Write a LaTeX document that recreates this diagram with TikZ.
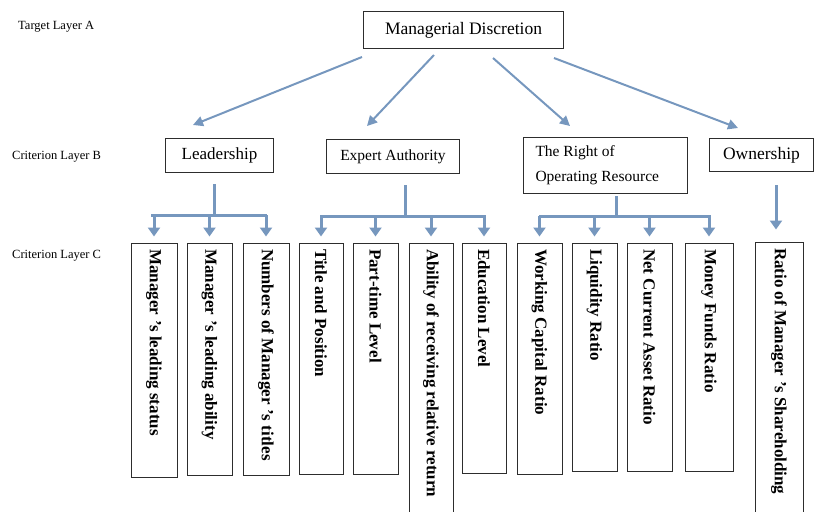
\documentclass[tikz,border=0pt]{standalone}
\usepackage{fontspec}
\setmainfont{Liberation Serif}
\usetikzlibrary{arrows.meta,calc}
\definecolor{arrowblue}{RGB}{118,151,190}
\definecolor{boxline}{RGB}{45,45,45}
\newcommand{\mgr}{Manager\hspace{0.3em}’s}
\begin{document}
\begin{tikzpicture}[x=1pt,y=-1pt,
  bbox/.style={draw=boxline, line width=1pt, inner sep=0pt, anchor=north west},
  cbox/.style={draw=boxline, line width=1pt, rotate=-90, inner xsep=6pt, inner ysep=0pt, align=flush left, font=\bfseries\fontsize{17}{17}\selectfont},
  layer/.style={anchor=west, inner sep=0pt, font=\fontsize{12.5}{14}\selectfont},
  aarrow/.style={draw=arrowblue, line width=2pt, -{Triangle[length=10pt,width=10pt]}},
  bline/.style={draw=arrowblue, line width=3pt},
  barrow/.style={draw=arrowblue, line width=3pt, -{Triangle[length=9pt,width=12pt]}, shorten >=6pt},
]
\useasboundingbox (0,0) rectangle (815,512);
\clip (0,0) rectangle (815,512);

% layer labels
\node[layer] (la) at (18,27) {Target Layer A};
\node[layer] (lb) at (12,157) {Criterion Layer B};
\node[layer] (lc) at (12,256) {Criterion Layer C};

% layer A
\node[bbox, minimum width=200, minimum height=37, font=\fontsize{17.5}{20}\selectfont] (A) at (363,11) {Managerial Discretion};

% layer B
\node[bbox, minimum width=108, minimum height=34, font=\fontsize{17}{20}\selectfont] (L) at (165,138) {Leadership};
\node[bbox, minimum width=133, minimum height=34, font=\fontsize{15.5}{18}\selectfont] (E) at (326,139) {Expert Authority};
\node[bbox, minimum width=164, minimum height=56, text width=140, align=flush left, font=\fontsize{15.5}{25}\selectfont] (R) at (523,137) {The Right of\\Operating Resource};
\node[bbox, minimum width=104, minimum height=33, font=\fontsize{17.5}{20}\selectfont] (O) at (709,138) {Ownership};

% layer C
\node[cbox, minimum width=234, minimum height=46, text width=222] (c1) at (154,360) {\mgr{} leading status};
\node[cbox, minimum width=232, minimum height=45, text width=220] (c2) at (209.5,359) {\mgr{} leading ability};
\node[cbox, minimum width=232, minimum height=46, text width=220] (c3) at (266,359) {Numbers of \mgr{} titles};
\node[cbox, minimum width=231, minimum height=44, text width=219] (c4) at (321,358.5) {Title and Position};
\node[cbox, minimum width=231, minimum height=45, text width=219] (c5) at (375.5,358.5) {Part-time Level};
\node[cbox, minimum width=282, minimum height=44, text width=270] (c6) at (431,384) {Ability of receiving relative return};
\node[cbox, minimum width=230, minimum height=44, text width=218] (c7) at (484,358) {Education Level};
\node[cbox, minimum width=231, minimum height=45, text width=219] (c8) at (539.5,358.5) {Working Capital Ratio};
\node[cbox, minimum width=228, minimum height=45, text width=216] (c9) at (594.5,357) {Liquidity Ratio};
\node[cbox, minimum width=228, minimum height=45, text width=216] (c10) at (649.5,357) {Net Current Asset Ratio};
\node[cbox, minimum width=228, minimum height=48, text width=216] (c11) at (709,357) {Money Funds Ratio};
\node[cbox, minimum width=283, minimum height=48, text width=271] (c12) at (779,383.5) {Ratio of \mgr{} Shareholding};

% A -> B arrows
\coordinate (a1s) at (362,57); \coordinate (a1e) at (193,125);
\coordinate (a2s) at (434,55); \coordinate (a2e) at (367,126);
\coordinate (a3s) at (493,58); \coordinate (a3e) at (570,126);
\coordinate (a4s) at (554,58); \coordinate (a4e) at (738,128);
\draw[aarrow] (a1s) -- (a1e);
\draw[aarrow] (a2s) -- (a2e);
\draw[aarrow] (a3s) -- (a3e);
\draw[aarrow] (a4s) -- (a4e);

% Leadership
\coordinate (Ltop) at (214,184); \coordinate (Lbar) at (214,215);
\coordinate (Lbl) at (151,215); \coordinate (Lbr) at (267,215);
\draw[bline] (Ltop) -- (Lbar);
\draw[bline] (Lbl) -- (Lbr);
\foreach \c in {c1,c2,c3} \draw[barrow] (\c.west |- Lbar) -- (\c.west);

% Expert Authority
\coordinate (Etop) at (405,185); \coordinate (Ebar) at (405,216);
\coordinate (Ebl) at (320,216); \coordinate (Ebr) at (486,216);
\draw[bline] (Etop) -- (Ebar);
\draw[bline] (Ebl) -- (Ebr);
\foreach \c in {c4,c5,c6,c7} \draw[barrow] (\c.west |- Ebar) -- (\c.west);

% Right of Operating Resource
\coordinate (Rtop) at (616,196); \coordinate (Rbar) at (616,216);
\coordinate (Rbl) at (539,216); \coordinate (Rbr) at (711,216);
\draw[bline] (Rtop) -- (Rbar);
\draw[bline] (Rbl) -- (Rbr);
\foreach \c in {c8,c9,c10,c11} \draw[barrow] (\c.west |- Rbar) -- (\c.west);

% Ownership
\coordinate (Otop) at (776,185);
\draw[barrow, shorten >=12pt] (Otop) -- (Otop |- c12.west);
\end{tikzpicture}
\end{document}
